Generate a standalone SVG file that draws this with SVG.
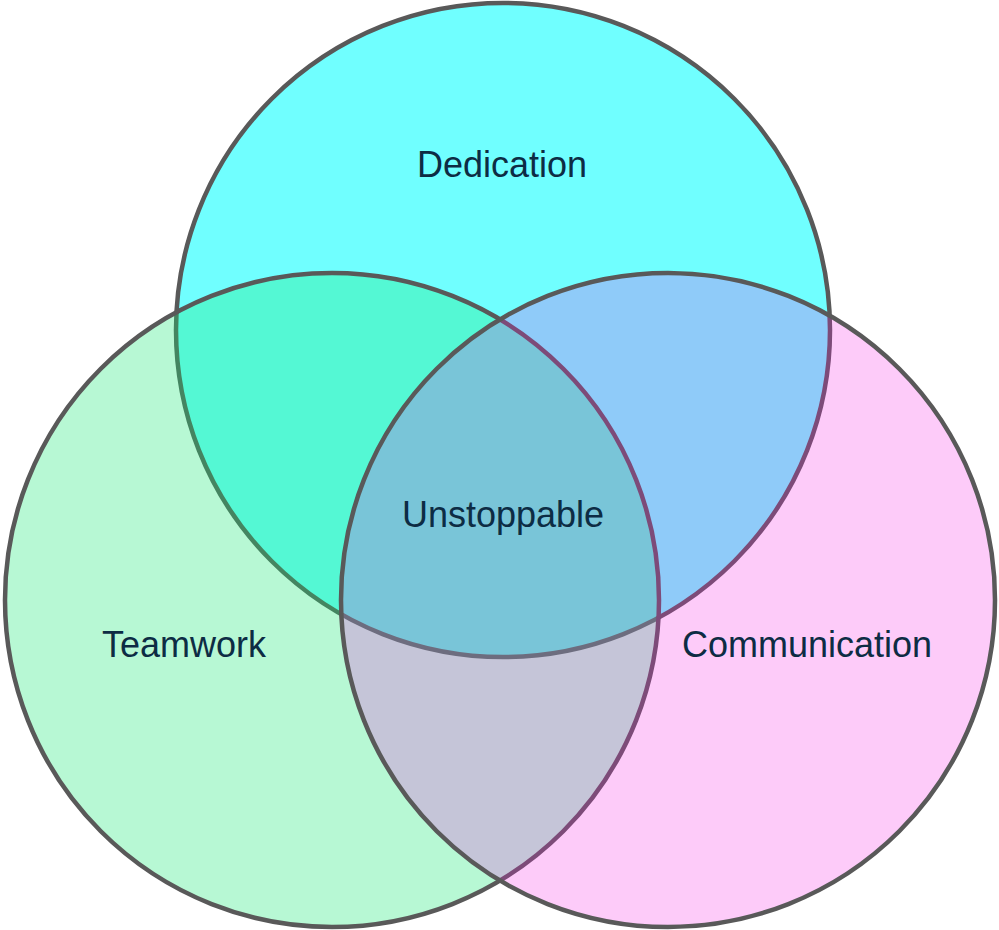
<svg xmlns="http://www.w3.org/2000/svg" width="999" height="930" viewBox="0 0 999 930">
  <style>
    .set { stroke: #595959; stroke-width: 4.5; }
    .label { font-family: "Liberation Sans", Arial, sans-serif; font-size: 36px; fill: #0d2c44; text-anchor: middle; }
  </style>
  <rect width="999" height="930" fill="#ffffff"/>
  <g id="dedication">
    <circle class="set" cx="503" cy="330" r="327" fill="#70ffff"/>
  </g>
  <g id="teamwork">
    <circle class="set" cx="332" cy="600" r="327" fill="#18e873" fill-opacity="0.31"/>
  </g>
  <g id="communication">
    <circle class="set" cx="668" cy="600" r="327" fill="#f61de5" fill-opacity="0.23"/>
  </g>
  <g id="labels">
    <text class="label" x="502" y="177">Dedication</text>
    <text class="label" x="184" y="657">Teamwork</text>
    <text class="label" x="807" y="657">Communication</text>
    <text class="label" x="503" y="527">Unstoppable</text>
  </g>
</svg>
